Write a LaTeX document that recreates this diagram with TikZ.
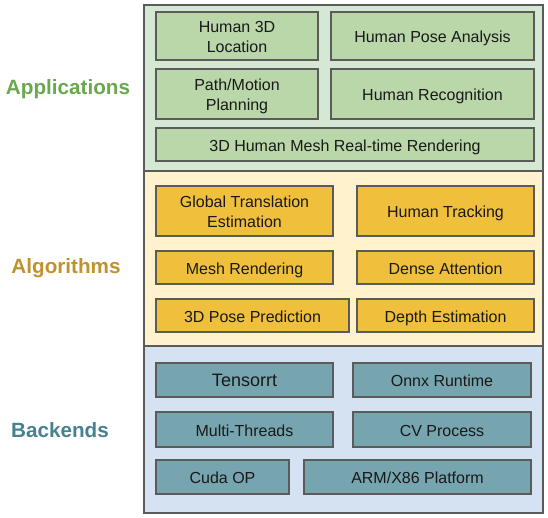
\documentclass[tikz,border=0pt]{standalone}
\usepackage{fontspec}
\setmainfont{Liberation Sans}
\usetikzlibrary{fit}
\definecolor{edge}{HTML}{5B5B5B}
\definecolor{appbg}{HTML}{D5E8D4}
\definecolor{appfill}{HTML}{B9D7A8}
\definecolor{apptext}{HTML}{6AA84F}
\definecolor{algbg}{HTML}{FFF2CC}
\definecolor{algfill}{HTML}{F0C03C}
\definecolor{algtext}{HTML}{C0922E}
\definecolor{backbg}{HTML}{D4E2F1}
\definecolor{backfill}{HTML}{76A5AF}
\definecolor{backtext}{HTML}{47818F}
\newcommand\capstrut{\rule[-2.8pt]{0pt}{11.4pt}}
\tikzset{panel/.style = {draw = edge, line width = 1.5pt}}
\tikzset{boxtext/.style = {align = center, text = black!90, yshift = -2pt,
                           font = \fontsize{12}{15}\selectfont,
                           execute at begin node = \capstrut,
                           execute at end node = \capstrut}}
\tikzset{box/.style = {draw = edge, line width = 1.1pt, inner sep = 0}}
\tikzset{appbox/.style = {box, fill = appfill}}
\tikzset{algbox/.style = {box, fill = algfill}}
\tikzset{backbox/.style = {box, fill = backfill}}
\tikzset{layer/.style = {font = \fontsize{15.5}{18}\selectfont\bfseries}}

\begin{document}
\begin{tikzpicture}[x = 0.75pt, y = -0.75pt]
      \useasboundingbox (0, 0) rectangle (548, 517);

      % layers
      \draw [panel, fill = appbg] (144, 5) rectangle (543, 171);
      \draw [panel, fill = algbg] (144, 171) rectangle (543, 346);
      \draw [panel, fill = backbg] (144, 346) rectangle (543, 513);

      \node [layer, text = apptext] (applications) at (68, 89) {Applications};
      \node [layer, text = algtext] (algorithms) at (66, 268) {Algorithms};
      \node [layer, text = backtext] (backends) at (60, 430) {Backends};

      % applications
      \node [appbox, fit = {(156, 12) (318, 60)},
             label = {[boxtext]center:Human 3D\\Location}] (location) {};
      \node [appbox, fit = {(331, 12) (534, 60)},
             label = {[boxtext]center:Human Pose Analysis}] (poseanalysis) {};
      \node [appbox, fit = {(156, 69) (318, 119)},
             label = {[boxtext]center:Path/Motion\\Planning}] (planning) {};
      \node [appbox, fit = {(331, 69) (534, 119)},
             label = {[boxtext]center:Human Recognition}] (recognition) {};
      \node [appbox, fit = {(156, 128) (534, 161)},
             label = {[boxtext]center:3D Human Mesh Real-time Rendering}] (meshrender) {};

      % algorithms
      \node [algbox, fit = {(156, 186) (333, 236)},
             label = {[boxtext]center:Global Translation\\Estimation}] (translation) {};
      \node [algbox, fit = {(357, 186) (534, 236)},
             label = {[boxtext]center:Human Tracking}] (tracking) {};
      \node [algbox, fit = {(156, 251) (333, 284)},
             label = {[boxtext]center:Mesh Rendering}] (rendering) {};
      \node [algbox, fit = {(357, 251) (534, 284)},
             label = {[boxtext]center:Dense Attention}] (attention) {};
      \node [algbox, fit = {(156, 299) (349, 332)},
             label = {[boxtext]center:3D Pose Prediction}] (poseprediction) {};
      \node [algbox, fit = {(357, 299) (534, 332)},
             label = {[boxtext]center:Depth Estimation}] (depth) {};

      % backends
      \node [backbox, fit = {(156, 363) (333, 397)},
             label = {[boxtext, font = \fontsize{13.5}{16}\selectfont]center:Tensorrt}] (tensorrt) {};
      \node [backbox, fit = {(353, 363) (531, 397)},
             label = {[boxtext]center:Onnx Runtime}] (onnx) {};
      \node [backbox, fit = {(156, 412) (333, 447)},
             label = {[boxtext]center:Multi-Threads}] (threads) {};
      \node [backbox, fit = {(353, 412) (531, 447)},
             label = {[boxtext]center:CV Process}] (cvprocess) {};
      \node [backbox, fit = {(156, 460) (289, 494)},
             label = {[boxtext]center:Cuda OP}] (cudaop) {};
      \node [backbox, fit = {(304, 460) (531, 494)},
             label = {[boxtext]center:ARM/X86 Platform}] (platform) {};
    \end{tikzpicture}
\end{document}
